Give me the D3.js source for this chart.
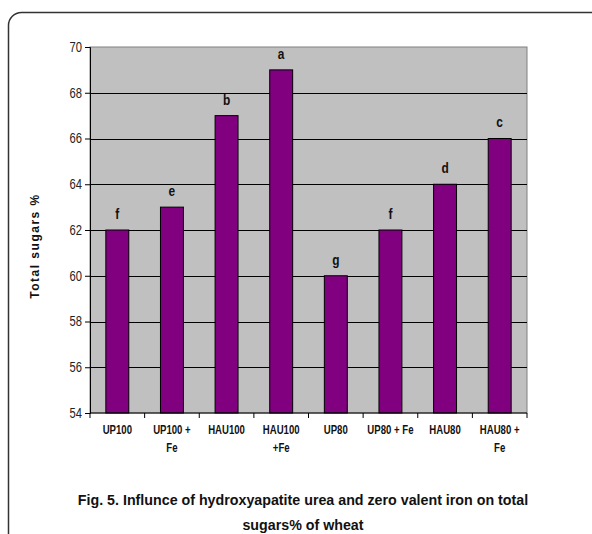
<!DOCTYPE html>
<html>
<head>
<meta charset="utf-8">
<script src="https://cdn.jsdelivr.net/npm/d3@7"></script>
<style>
  body { margin: 0; background: #fff; }
  svg { display: block; }
</style>
</head>
<body>
<div id="chart"></div>
<script>
// data
var treatments = ["UP100", "UP100 + Fe", "HAU100", "HAU100 +Fe", "UP80", "UP80 + Fe", "HAU80", "HAU80 + Fe"];
var tickLines = [["UP100"], ["UP100 +", "Fe"], ["HAU100"], ["HAU100", "+Fe"], ["UP80"], ["UP80 + Fe"], ["HAU80"], ["HAU80 +", "Fe"]];
var sugars = [62, 63, 67, 69, 60, 62, 64, 66];
var letters = ["f", "e", "b", "a", "g", "f", "d", "c"];
var yTicks = [54, 56, 58, 60, 62, 64, 66, 68, 70];

var svgWidth = 592;
var svgHeight = 534;
var margin = {top: 47, right: 65, bottom: 121, left: 90};
var width = svgWidth - margin.left - margin.right;
var height = svgHeight - margin.top - margin.bottom;
var font = "'Liberation Sans', Arial, sans-serif";

// no narrow font installed, so squeeze text horizontally
function condense(sel, k) {
  sel.each(function() {
    var t = d3.select(this);
    var x = +t.attr("x") || 0;
    t.attr("x", x / k).attr("transform", `scale(${k},1)`);
    t.selectAll("tspan").each(function() {
      var s = d3.select(this);
      if (s.attr("x") !== null) s.attr("x", +s.attr("x") / k);
    });
  });
}

var svg = d3.select("#chart")
  .append("svg")
  .attr("width", svgWidth)
  .attr("height", svgHeight);

// rounded frame round the figure, running off the right and bottom
svg.append("rect")
  .attr("x", 8.5)
  .attr("y", 12.5)
  .attr("width", 600)
  .attr("height", 540)
  .attr("rx", 13)
  .attr("fill", "none")
  .attr("stroke", "#333")
  .attr("stroke-width", 1.5);

var chartGroup = svg.append("g")
  .attr("transform", `translate(${margin.left}, ${margin.top})`);

var xScale = d3.scaleBand()
  .domain(treatments)
  .range([0, width])
  .paddingInner(0.58)
  .paddingOuter(0.29);

var yScale = d3.scaleLinear()
  .domain([54, 70])
  .range([height, 0]);

// plot area
chartGroup.append("rect")
  .attr("width", width)
  .attr("height", height)
  .attr("fill", "#c0c0c0")
  .attr("stroke", "#808080")
  .attr("stroke-width", 1);

// gridlines
chartGroup.selectAll(".grid")
  .data(yTicks.filter(d => d > 54 && d < 70))
  .enter()
  .append("line")
  .attr("x1", 0)
  .attr("x2", width)
  .attr("y1", d => Math.round(yScale(d)) + 0.5)
  .attr("y2", d => Math.round(yScale(d)) + 0.5)
  .attr("stroke", "#000")
  .attr("stroke-width", 1);

// bars
chartGroup.selectAll(".bar")
  .data(sugars)
  .enter()
  .append("rect")
  .attr("x", (d, i) => xScale(treatments[i]))
  .attr("y", d => yScale(d))
  .attr("width", xScale.bandwidth())
  .attr("height", d => height - yScale(d))
  .attr("fill", "#800080")
  .attr("stroke", "#000")
  .attr("stroke-width", 1);

// significance letters
var letterText = chartGroup.selectAll(".letter")
  .data(sugars)
  .enter()
  .append("text")
  .attr("x", (d, i) => xScale(treatments[i]) + xScale.bandwidth() / 2)
  .attr("y", d => yScale(d) - 11)
  .attr("text-anchor", "middle")
  .style("font-family", font)
  .style("font-weight", "bold")
  .style("font-size", "14px")
  .attr("fill", "#111")
  .text((d, i) => letters[i]);
condense(letterText, 0.85);

// y axis
var leftAxis = d3.axisLeft(yScale)
  .tickValues(yTicks)
  .tickSize(5)
  .tickPadding(3);

var yAxis = chartGroup.append("g").call(leftAxis);
yAxis.select(".domain").attr("stroke", "#000");
yAxis.selectAll("text")
  .style("font-family", font)
  .style("font-size", "14px")
  .attr("fill", "#222");
condense(yAxis.selectAll("text"), 0.8);

// x axis: ticks on the band edges, labels under the bands
var edgeScale = d3.scaleLinear().domain([0, treatments.length]).range([0, width]);
var xAxis = chartGroup.append("g")
  .attr("transform", `translate(0, ${height})`);
xAxis.append("line")
  .attr("x1", 0).attr("x2", width)
  .attr("stroke", "#000");
xAxis.selectAll(".xtick")
  .data(d3.range(treatments.length + 1))
  .enter()
  .append("line")
  .attr("x1", d => edgeScale(d))
  .attr("x2", d => edgeScale(d))
  .attr("y1", 0)
  .attr("y2", 5)
  .attr("stroke", "#000");

var xLabels = xAxis.selectAll(".xlabel")
  .data(tickLines)
  .enter()
  .append("text")
  .attr("x", (d, i) => xScale(treatments[i]) + xScale.bandwidth() / 2)
  .attr("y", 21)
  .attr("text-anchor", "middle")
  .style("font-family", font)
  .style("font-weight", "bold")
  .style("font-size", "12px")
  .attr("fill", "#111");
xLabels.selectAll("tspan")
  .data(d => d)
  .enter()
  .append("tspan")
  .attr("x", function() { return d3.select(this.parentNode).attr("x"); })
  .attr("dy", (d, i) => i === 0 ? 0 : 18)
  .text(d => d);
condense(xLabels, 0.8);

// y axis title
svg.append("text")
  .attr("transform", "translate(39, 246) rotate(-90)")
  .attr("text-anchor", "middle")
  .style("font-family", font)
  .style("font-weight", "bold")
  .style("font-size", "12px")
  .style("letter-spacing", "1.5px")
  .attr("fill", "#111")
  .text("Total sugars %");

// caption
var caption = svg.append("text")
  .attr("text-anchor", "middle")
  .style("font-family", font)
  .style("font-weight", "bold")
  .style("font-size", "15.5px")
  .attr("fill", "#111");
caption.append("tspan").attr("x", 303).attr("y", 505)
  .text("Fig. 5. Influnce of hydroxyapatite urea and zero valent iron on total");
caption.append("tspan").attr("x", 303).attr("y", 530)
  .text("sugars%  of wheat");
condense(caption, 0.92);
</script>
</body>
</html>
